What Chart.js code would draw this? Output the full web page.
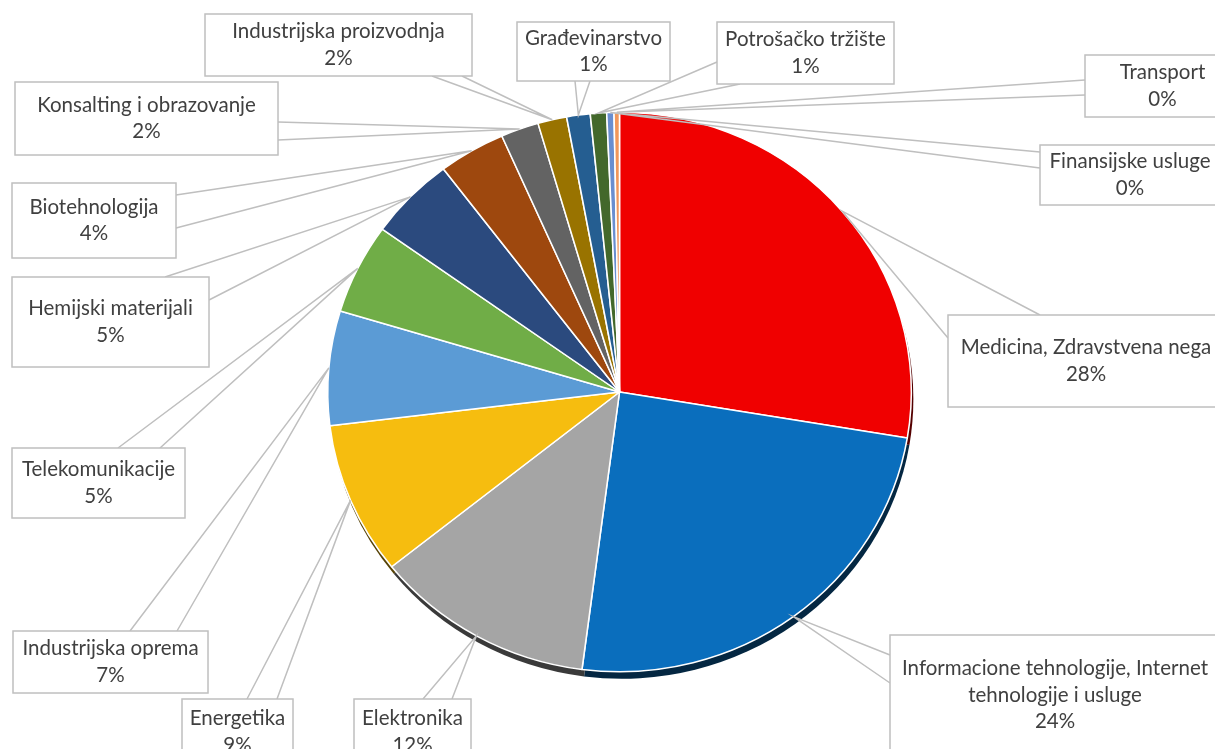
<!DOCTYPE html>
<html>
<head>
<meta charset="utf-8">
<script src="https://cdn.jsdelivr.net/npm/chart.js@4.4.1/dist/chart.umd.min.js"></script>
<style>
  html, body { margin: 0; padding: 0; background: #fff; }
  #wrap { width: 1215px; height: 749px; }
</style>
</head>
<body>
<div id="wrap"><canvas id="chart"></canvas></div>
<script>
// Share of companies per sector
const categories = [
  "Medicina, Zdravstvena nega",
  "Informacione tehnologije, Internet tehnologije i usluge",
  "Elektronika",
  "Energetika",
  "Industrijska oprema",
  "Telekomunikacije",
  "Hemijski materijali",
  "Biotehnologija",
  "Konsalting i obrazovanje",
  "Industrijska proizvodnja",
  "Građevinarstvo",
  "Potrošačko tržište",
  "Finansijske usluge",
  "Transport",
];
const values = [27.6, 24.4, 12.2, 8.8, 6.6, 5.2, 4.8, 3.7, 2.1, 1.6, 1.3, 0.9, 0.4, 0.3];
const sliceColors = [
  "#f00000", "#0a6ebd", "#a5a5a5", "#f6bd0f", "#5b9bd5", "#70ad47", "#2b4a7e",
  "#9e480e", "#636363", "#997300", "#255e91", "#43682b", "#698ed0", "#f1975a",
];

// label box placement: [left, top, width, height], plus the two points where the callout leaves the box
const callouts = [
  { box: [948, 315, 276, 92], base: [[948, 338], [1040, 315]] },
  { box: [890, 635, 330, 120], base: [[890, 655], [890, 683]] },
  { box: [354, 699, 117, 66], base: [[423, 699], [452, 699]] },
  { box: [182, 699, 111, 66], base: [[247, 699], [277, 699]] },
  { box: [13, 631, 195, 62], base: [[130, 631], [177, 631]] },
  { box: [12, 448, 173, 70], base: [[118, 448], [160, 448]] },
  { box: [12, 277, 197, 90], base: [[165, 277], [209, 300]] },
  { box: [12, 183, 164, 75], base: [[176, 195], [176, 228]] },
  { box: [15, 82, 263, 73], base: [[278, 122], [278, 140]] },
  { box: [205, 14, 267, 62], base: [[432, 76], [462, 76]] },
  { box: [517, 22, 153, 59], base: [[575, 81], [590, 81]] },
  { box: [717, 22, 177, 62], base: [[717, 62], [740, 84]] },
  { box: [1040, 145, 180, 60], base: [[1040, 152], [1040, 168]] },
  { box: [1085, 55, 155, 62], base: [[1085, 80], [1085, 95]] },
];

// the picture is a bit wider than tall
const stretchX = 1.043;

const total = values.reduce((a, b) => a + b, 0);
const percentLabels = values.map((v) => Math.round((v / total) * 100) + "%");

function darken(hex, f) {
  const n = parseInt(hex.slice(1), 16);
  const r = Math.round(((n >> 16) & 255) * f);
  const g = Math.round(((n >> 8) & 255) * f);
  const b = Math.round((n & 255) * f);
  return `rgb(${r},${g},${b})`;
}

// horizontal stretch + darker copy of each slice pushed down, like the Excel shadow
const shadowPlugin = {
  id: "pieShadow",
  beforeDatasetsDraw(chart) {
    const ctx = chart.ctx;
    const arcs = chart.getDatasetMeta(0).data;
    const cx = arcs[0].x;
    const cy = arcs[0].y;
    ctx.save();
    ctx.translate(cx, cy);
    ctx.scale(stretchX, 1);
    ctx.translate(-cx, -cy);
    arcs.forEach((arc, i) => {
      const { x, y, startAngle, endAngle, outerRadius } = arc.getProps(["x", "y", "startAngle", "endAngle", "outerRadius"], true);
      ctx.beginPath();
      ctx.moveTo(x + 2, y + 7);
      ctx.arc(x + 2, y + 7, outerRadius, startAngle, endAngle);
      ctx.closePath();
      ctx.fillStyle = darken(sliceColors[i], 0.35);
      ctx.fill();
    });
  },
  afterDatasetsDraw(chart) {
    chart.ctx.restore();
  },
};

function wrapLines(ctx, text, maxWidth) {
  const words = text.split(" ");
  const lines = [];
  let cur = "";
  words.forEach((w) => {
    const t = cur ? cur + " " + w : w;
    if (ctx.measureText(t).width > maxWidth && cur) {
      lines.push(cur);
      cur = w;
    } else {
      cur = t;
    }
  });
  if (cur) lines.push(cur);
  return lines;
}

const calloutPlugin = {
  id: "callouts",
  afterDraw(chart) {
    const ctx = chart.ctx;
    const arcs = chart.getDatasetMeta(0).data;
    ctx.save();
    arcs.forEach((arc, i) => {
      const c = callouts[i];
      const { x, y, startAngle, endAngle, outerRadius } = arc.getProps(["x", "y", "startAngle", "endAngle", "outerRadius"], true);
      const mid = (startAngle + endAngle) / 2;
      const ax = x + Math.cos(mid) * outerRadius * stretchX;
      const ay = y + Math.sin(mid) * outerRadius;
      const [bx, by, bw, bh] = c.box;

      // pointer
      ctx.strokeStyle = "#bfbfbf";
      ctx.lineWidth = 1.5;
      ctx.beginPath();
      ctx.moveTo(c.base[0][0], c.base[0][1]);
      ctx.lineTo(ax, ay);
      ctx.lineTo(c.base[1][0], c.base[1][1]);
      ctx.stroke();

      // box
      ctx.fillStyle = "#ffffff";
      ctx.fillRect(bx, by, bw, bh);
      ctx.strokeRect(bx, by, bw, bh);

      // text
      ctx.font = "20.5px Lato, 'Open Sans', sans-serif";
      ctx.fillStyle = "#404040";
      ctx.textAlign = "center";
      ctx.textBaseline = "middle";
      const lines = wrapLines(ctx, categories[i], bw - 12).concat([percentLabels[i]]);
      const lh = 26.5;
      const top = by + bh / 2 - ((lines.length - 1) * lh) / 2;
      lines.forEach((ln, k) => ctx.fillText(ln, bx + bw / 2, top + k * lh));
    });
    ctx.restore();
  },
};

new Chart(document.getElementById("chart"), {
  type: "pie",
  data: {
    labels: categories,
    datasets: [{
      data: values,
      backgroundColor: sliceColors,
      borderColor: "#ffffff",
      borderWidth: 1.5,
    }],
  },
  options: {
    responsive: true,
    maintainAspectRatio: false,
    animation: false,
    layout: { padding: { left: 339, right: 315, top: 111, bottom: 76 } },
    plugins: {
      legend: { display: false },
      tooltip: { enabled: false },
    },
  },
  plugins: [shadowPlugin, calloutPlugin],
});
</script>
</body>
</html>
